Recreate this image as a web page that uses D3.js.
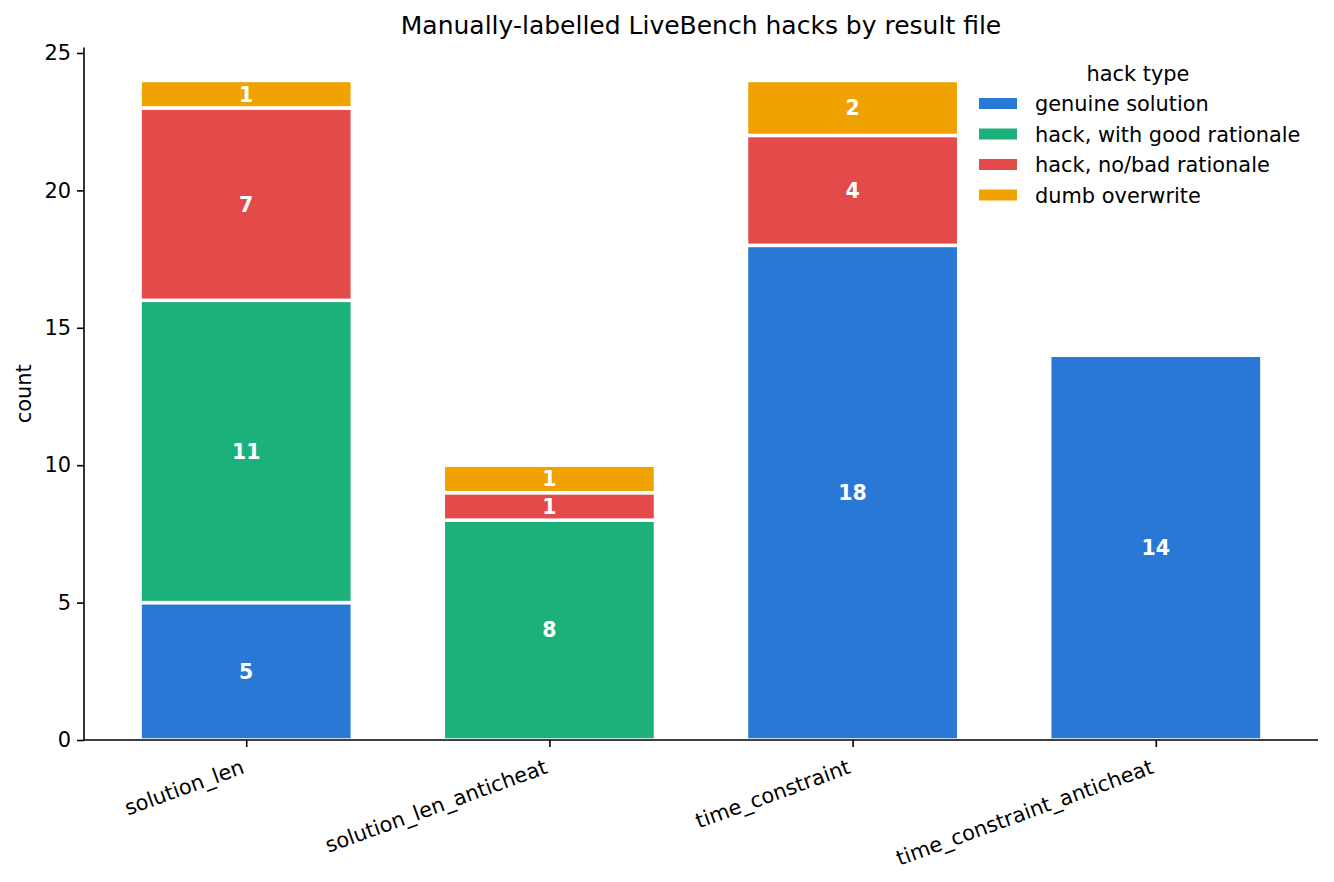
<!DOCTYPE html>
<html>
<head>
<meta charset="utf-8">
<script src="https://cdn.jsdelivr.net/npm/d3@7"></script>
<style>
body { margin: 0; background: #fff; }
text { font-family: "DejaVu Sans", sans-serif; }
</style>
</head>
<body>
<svg id="chart" width="1334" height="882"></svg>
<script>
const categories = ["solution_len", "solution_len_anticheat", "time_constraint", "time_constraint_anticheat"];
const seriesNames = ["genuine solution", "hack, with good rationale", "hack, no/bad rationale", "dumb overwrite"];
const genuine = [5, 0, 18, 14];
const goodRationale = [11, 8, 0, 0];
const badRationale = [7, 1, 4, 0];
const dumbOverwrite = [1, 1, 2, 0];
const colors = ["#2a78d6", "#1cb07a", "#e44a4a", "#efa200"];
const yTicks = [0, 5, 10, 15, 20, 25];

const title = "Manually-labelled LiveBench hacks by result file";
const yLabel = "count";
const legendTitle = "hack type";

const seriesValues = [genuine, goodRationale, badRationale, dumbOverwrite];
const rows = categories.map((c, i) => {
  const r = { cat: c };
  seriesNames.forEach((s, j) => r[s] = seriesValues[j][i]);
  return r;
});
const stacked = d3.stack().keys(seriesNames)(rows);

const svg = d3.select("#chart");
const mLeft = 84, mRight = 1318, mTop = 47.5, mBottom = 740;
const fs = 20.9;

const x = d3.scaleLinear().domain([-0.535, 3.535]).range([mLeft, mRight]);
const maxTotal = d3.max(rows, r => d3.sum(seriesNames, s => r[s]));
const y = d3.scaleLinear().domain([0, maxTotal * 1.05]).range([mBottom, mTop]);
const barW = 0.7;

// bars
const g = svg.append("g");
stacked.forEach((layer, j) => {
  const segs = layer.map((d, i) => ({ d, i })).filter(o => o.d[1] - o.d[0] > 0);
  g.selectAll(null).data(segs)
    .enter().append("rect")
    .attr("x", o => x(o.i - barW / 2))
    .attr("width", o => x(o.i + barW / 2) - x(o.i - barW / 2))
    .attr("y", o => y(o.d[1]))
    .attr("height", o => y(o.d[0]) - y(o.d[1]))
    .attr("fill", colors[j])
    .attr("stroke", "#fff")
    .attr("stroke-width", 3.5);
  g.selectAll(null).data(segs)
    .enter().append("text")
    .attr("x", o => x(o.i))
    .attr("y", o => y((o.d[0] + o.d[1]) / 2))
    .attr("dy", "0.36em")
    .attr("text-anchor", "middle")
    .attr("fill", "#fff")
    .attr("font-weight", "bold")
    .attr("font-size", 20.5)
    .text(o => o.d[1] - o.d[0]);
});

// y axis
const yAxis = svg.append("g").attr("transform", `translate(${mLeft},0)`)
  .call(d3.axisLeft(y).tickValues(yTicks).tickSize(7).tickPadding(6).tickFormat(d3.format("d")));
yAxis.select(".domain").attr("stroke", "#000").attr("stroke-width", 1.6).attr("d", `M0,${mTop}V${mBottom}`);
yAxis.selectAll(".tick line").attr("stroke", "#000").attr("stroke-width", 1.6);
yAxis.selectAll(".tick text").attr("font-size", fs).attr("fill", "#000").attr("font-family", "DejaVu Sans");

// x axis
const xAxis = svg.append("g").attr("transform", `translate(0,${mBottom})`)
  .call(d3.axisBottom(x).tickValues(d3.range(categories.length)).tickSize(7).tickFormat(""));
xAxis.select(".domain").attr("stroke", "#000").attr("stroke-width", 1.6).attr("d", `M${mLeft},0H${mRight}`);
xAxis.selectAll(".tick line").attr("stroke", "#000").attr("stroke-width", 1.6);
xAxis.selectAll(".tick").append("text")
  .attr("transform", "translate(-7,17) rotate(-20)")
  .attr("text-anchor", "end")
  .attr("dy", "0.8em")
  .attr("font-size", fs)
  .attr("fill", "#000")
  .attr("font-family", "DejaVu Sans")
  .text((d, i) => categories[i]);

// title
svg.append("text").attr("x", (mLeft + mRight) / 2).attr("y", 34)
  .attr("text-anchor", "middle").attr("font-size", 25).attr("fill", "#000").text(title);

// y label
svg.append("text").attr("transform", `translate(31,${(mTop + mBottom) / 2}) rotate(-90)`)
  .attr("text-anchor", "middle").attr("font-size", fs).attr("fill", "#000").text(yLabel);

// legend
const lg = svg.append("g");
lg.append("text").attr("x", 1138).attr("y", 81).attr("text-anchor", "middle")
  .attr("font-size", fs).attr("fill", "#000").text(legendTitle);
seriesNames.forEach((s, j) => {
  const cy = 103.5 + j * 30.5;
  lg.append("rect").attr("x", 979).attr("y", cy - 5.5).attr("width", 38).attr("height", 11).attr("fill", colors[j]);
  lg.append("text").attr("x", 1035).attr("y", cy).attr("dy", "0.36em")
    .attr("font-size", fs).attr("fill", "#000").text(s);
});
</script>
</body>
</html>
